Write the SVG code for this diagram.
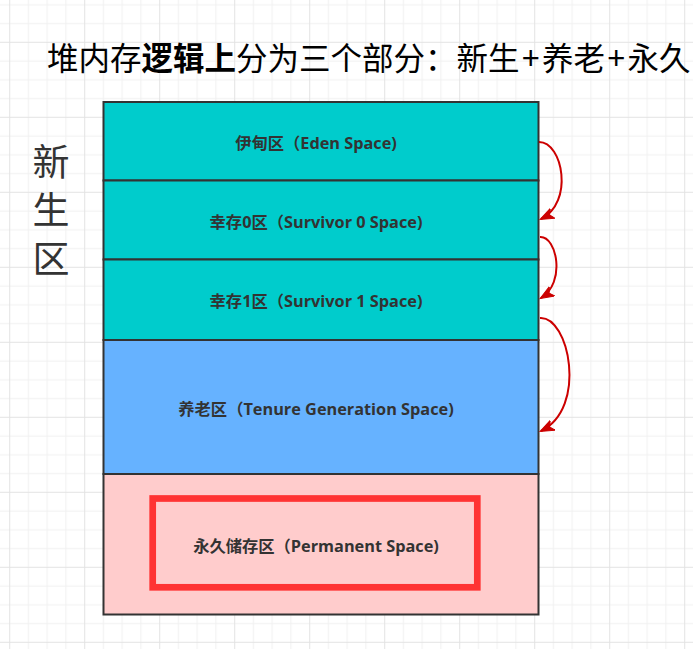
<svg xmlns="http://www.w3.org/2000/svg" width="693" height="649" viewBox="0 0 693 649">
  <defs>
    <pattern id="grid" patternUnits="userSpaceOnUse" x="9.2" y="41.8" width="75" height="75">
      <rect x="0" y="0" width="75" height="75" fill="#ffffff"/>
      <g fill="#f1f1f1">
        <rect x="18.75" y="0" width="1" height="75"/>
        <rect x="37.5" y="0" width="1" height="75"/>
        <rect x="56.25" y="0" width="1" height="75"/>
        <rect x="0" y="18.75" width="75" height="1"/>
        <rect x="0" y="37.5" width="75" height="1"/>
        <rect x="0" y="56.25" width="75" height="1"/>
      </g>
      <g fill="#e3e3e3">
        <rect x="0" y="0" width="1" height="75"/>
        <rect x="0" y="0" width="75" height="1"/>
      </g>
    </pattern>
    <marker id="arrow" markerUnits="userSpaceOnUse" markerWidth="16" markerHeight="12" refX="13" refY="5.5" orient="auto" viewBox="0 0 16 12">
      <path d="M0,0 L14,5.5 L0,11 L3.5,5.5 Z" fill="#CC0000" stroke="#CC0000" stroke-width="1"/>
    </marker>
    <style>
      .box { stroke: #333333; stroke-width: 2; }
      .teal { fill: #00CCCC; }
      .blue { fill: #66B2FF; }
      .pink { fill: #FFCCCC; }
      .lbl { font-family: "Open Sans", "Noto Sans CJK SC", sans-serif; font-size: 16.3px; font-weight: bold; fill: #333333; text-anchor: middle; }
      .edge { fill: none; stroke: #CC0000; stroke-width: 2; marker-end: url(#arrow); }
    </style>
  </defs>

  <rect x="0" y="0" width="693" height="649" fill="url(#grid)"/>

  <g id="title">
    <text x="47" y="70" font-family="'Noto Sans CJK SC', sans-serif" font-size="31.5" fill="#000000">堆内存<tspan font-weight="bold">逻辑上</tspan>分为三个部分：新生<tspan dx="2.5">+</tspan><tspan dx="2.5">养老</tspan><tspan dx="2.5">+</tspan><tspan dx="2.5">永久</tspan></text>
  </g>

  <g id="young-label">
    <text x="51" y="143" writing-mode="vertical-rl" letter-spacing="11.5" font-family="'Noto Sans CJK SC', sans-serif" font-size="37" fill="#333333">新生区</text>
  </g>

  <g id="eden">
    <rect class="box teal" x="103.5" y="102" width="435" height="78.5"/>
    <text class="lbl" x="316" y="149">伊甸区（Eden Space)</text>
  </g>
  <g id="survivor0">
    <rect class="box teal" x="103.5" y="180.5" width="435" height="79"/>
    <text class="lbl" x="316" y="227.5">幸存0区（Survivor 0 Space)</text>
  </g>
  <g id="survivor1">
    <rect class="box teal" x="103.5" y="259.5" width="435" height="80.5"/>
    <text class="lbl" x="316" y="307">幸存1区（Survivor 1 Space)</text>
  </g>
  <g id="tenure">
    <rect class="box blue" x="103.5" y="340" width="435" height="134"/>
    <text class="lbl" x="316" y="414.5">养老区（Tenure Generation Space)</text>
  </g>
  <g id="permanent">
    <rect class="box pink" x="103.5" y="474" width="435" height="140.5"/>
    <rect x="152.7" y="498.5" width="324.6" height="88.8" fill="none" stroke="#FF3333" stroke-width="6.7"/>
    <text class="lbl" x="316" y="552">永久储存区（Permanent Space)</text>
  </g>

  <g id="connectors">
    <path class="edge" d="M539,142 C563,142 574,203 541,219"/>
    <path class="edge" d="M540,237 C557,236 566,283 541,298"/>
    <path class="edge" d="M540,318 C569,316 588,408 541,431"/>
  </g>
</svg>
